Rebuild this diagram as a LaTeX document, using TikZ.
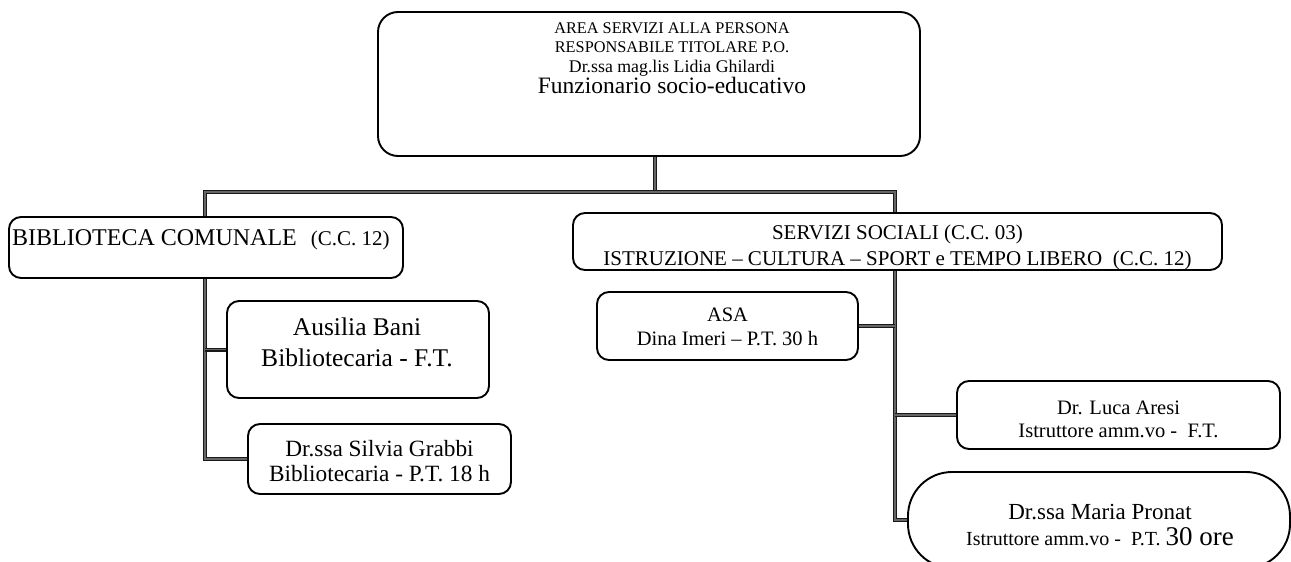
\documentclass[tikz,border=0pt]{standalone}
\usepackage{fontspec}
\setmainfont{Liberation Serif}
\usetikzlibrary{backgrounds}
\tikzset{
  box/.style={draw=black, line width=1.9pt, rounded corners=12pt, fill=white, inner sep=0pt},
  conn/.style={draw=black!90, line width=1.1pt, double=black!60, double distance=1.8pt, line join=miter},
  txt/.style={inner sep=0pt, align=center},
}
\newcommand\fsz[2]{\fontsize{#1}{#2}\selectfont}
\begin{document}
\begin{tikzpicture}[x=1pt,y=-1pt]
\useasboundingbox (0,0) rectangle (1291,562);
% boxes
\node[box, rounded corners=20pt, minimum width=542pt, minimum height=144pt] (top) at (649,84) {};
\node[txt, font=\fsz{16.3}{19.5}] (toptext) at (672,58) {AREA SERVIZI ALLA PERSONA\\RESPONSABILE TITOLARE P.O.\\ \fsz{17.8}{19.5}Dr.ssa mag.lis Lidia Ghilardi\\ \fsz{23.5}{19.5}Funzionario socio-educativo};

\node[box, minimum width=394pt, minimum height=61pt] (bib) at (206,247.5) {};
\node[txt, anchor=base west] (bibtext) at (12,245) {\fsz{24}{26}BIBLIOTECA COMUNALE\hspace{14pt}\fsz{21}{24}(C.C. 12)};

\node[box, minimum width=649pt, minimum height=57pt] (soc) at (897.5,241.5) {};
\node[txt, font=\fsz{21}{26}] (soctext) at (897.5,247.5) {SERVIZI SOCIALI (C.C. 03)\\ISTRUZIONE -- CULTURA -- SPORT e TEMPO LIBERO\ \ (C.C. 12)};

\node[box, minimum width=262pt, minimum height=97pt] (aus) at (358,349.5) {};
\node[txt, font=\fsz{25.5}{31}] (austext) at (357,342.5) {Ausilia Bani\\Bibliotecaria - F.T.};

\node[box, minimum width=263pt, minimum height=70pt] (sil) at (379.5,459) {};
\node[txt, font=\fsz{23.3}{25}] (siltext) at (379.5,461.5) {Dr.ssa Silvia Grabbi\\Bibliotecaria - P.T. 18 h};

\node[box, minimum width=261pt, minimum height=68pt] (asa) at (727.5,326) {};
\node[txt, font=\fsz{20.5}{24}] (asatext) at (727.5,326.5) {ASA\\Dina Imeri -- P.T. 30 h};

\node[box, minimum width=323pt, minimum height=68pt] (luc) at (1118.5,415) {};
\node[txt, font=\fsz{20.5}{23}] (luctext) at (1118.5,419) {Dr. Luca Aresi\\Istruttore amm.vo -\ \ F.T.};

\node[box, rounded corners=44pt, minimum width=382pt, minimum height=96pt] (mar) at (1099,520) {};
\node[txt, font=\fsz{20}{26}] (martext) at (1100,525) {\fsz{23}{26}Dr.ssa Maria Pronat\\Istruttore amm.vo -\ \ P.T. {\fsz{27}{26}30 ore}};

% bus coordinates
\coordinate (busL) at (205,192);
\coordinate (busR) at (895,192);

\begin{scope}[on background layer]
\draw[conn] ([xshift=6pt]top.south) -- ([xshift=6pt]top.south |- busL);
\draw[conn] (sil.west) -- (busL |- sil.west) -- (busL) -- (busR) -- (busR |- mar.west) -- (mar.west);
\draw[conn] (busL |- aus.west) -- (aus.west);
\draw[conn] (busR |- asa.east) -- (asa.east);
\draw[conn] (busR |- luc.west) -- (luc.west);
\end{scope}
\end{tikzpicture}
\end{document}
